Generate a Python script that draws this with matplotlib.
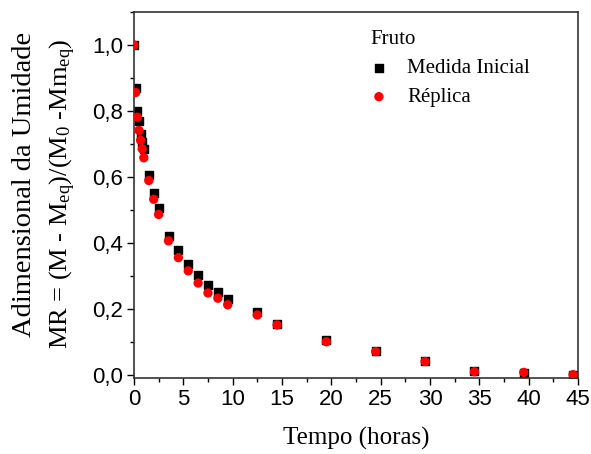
import numpy as np
import matplotlib
matplotlib.use("Agg")
import matplotlib.pyplot as plt
from matplotlib.ticker import MultipleLocator, FuncFormatter

# tempo (horas)
tempo = [0, 0.17, 0.33, 0.5, 0.67, 0.83, 1.0, 1.5, 2.0, 2.5, 3.5, 4.5, 5.5,
         6.5, 7.5, 8.5, 9.5, 12.5, 14.5, 19.5, 24.5, 29.5, 34.5, 39.5, 44.5]

# MR - medida inicial
mr_inicial = [1.0, 0.869, 0.80, 0.768, 0.731, 0.705, 0.683, 0.607, 0.55, 0.505,
              0.421, 0.379, 0.337, 0.302, 0.272, 0.25, 0.23, 0.189, 0.154,
              0.104, 0.072, 0.043, 0.010, 0.006, 0.0]

# MR - replica
mr_replica = [1.0, 0.856, 0.781, 0.741, 0.711, 0.685, 0.658, 0.589, 0.532, 0.486,
              0.406, 0.355, 0.315, 0.278, 0.248, 0.232, 0.212, 0.181, 0.151,
              0.10, 0.07, 0.04, 0.009, 0.007, 0.0]

plt.rcParams['mathtext.fontset'] = 'custom'
plt.rcParams['mathtext.rm'] = 'Liberation Serif'
plt.rcParams['mathtext.it'] = 'Liberation Serif'

fig = plt.figure(figsize=(5.91, 4.54), dpi=100)
ax = fig.add_axes([0.2267, 0.1674, 0.7513, 0.8062])

ax.scatter(tempo, mr_inicial, marker='s', s=40, c='black', label='Medida Inicial', zorder=2)
ax.scatter(tempo, mr_replica, marker='o', s=45, c='red', edgecolors='none', label='Réplica', zorder=3)

ax.set_xlim(0, 45)
ax.set_ylim(-0.01, 1.1)
ax.xaxis.set_major_locator(MultipleLocator(5))
ax.xaxis.set_minor_locator(MultipleLocator(2.5))
ax.yaxis.set_major_locator(MultipleLocator(0.2))
ax.yaxis.set_minor_locator(MultipleLocator(0.1))
ax.yaxis.set_major_formatter(FuncFormatter(lambda v, p: ('%.1f' % v).replace('.', ',')))

ax.tick_params(which='major', direction='out', length=5, width=1, labelsize=16, pad=3)
ax.tick_params(which='minor', direction='out', length=3, width=1)
for lab in ax.get_xticklabels() + ax.get_yticklabels():
    lab.set_fontfamily('Liberation Sans')
for s in ax.spines.values():
    s.set_linewidth(1.2)
    s.set_color('#333333')

ax.set_xlabel('Tempo (horas)', fontsize=18, fontfamily='Liberation Serif', labelpad=12)

# y label in two lines
fig.text(25 / 591, 1 - 184 / 454, 'Adimensional da Umidade', rotation=90,
         fontsize=20.5, fontfamily='Liberation Serif', ha='center', va='center')
fig.text(63 / 591, 1 - 194 / 454, 'MR = (M - M$_{\\rm eq}$)/(M$_0$ -Mm$_{\\rm eq}$)', rotation=90,
         fontsize=19, fontfamily='Liberation Serif', ha='center', va='center')

leg = ax.legend(title='Fruto', loc='upper left', bbox_to_anchor=(0.5, 0.99), frameon=False,
                prop={'family': 'Liberation Serif', 'size': 15}, handletextpad=0.95,
                handlelength=0.8, borderpad=0.2, labelspacing=0.45, scatterpoints=1)
leg.get_title().set_fontfamily('Liberation Serif')
leg.get_title().set_fontsize(15)
leg._legend_box.align = 'left'

fig.savefig('out.png', dpi=100)
